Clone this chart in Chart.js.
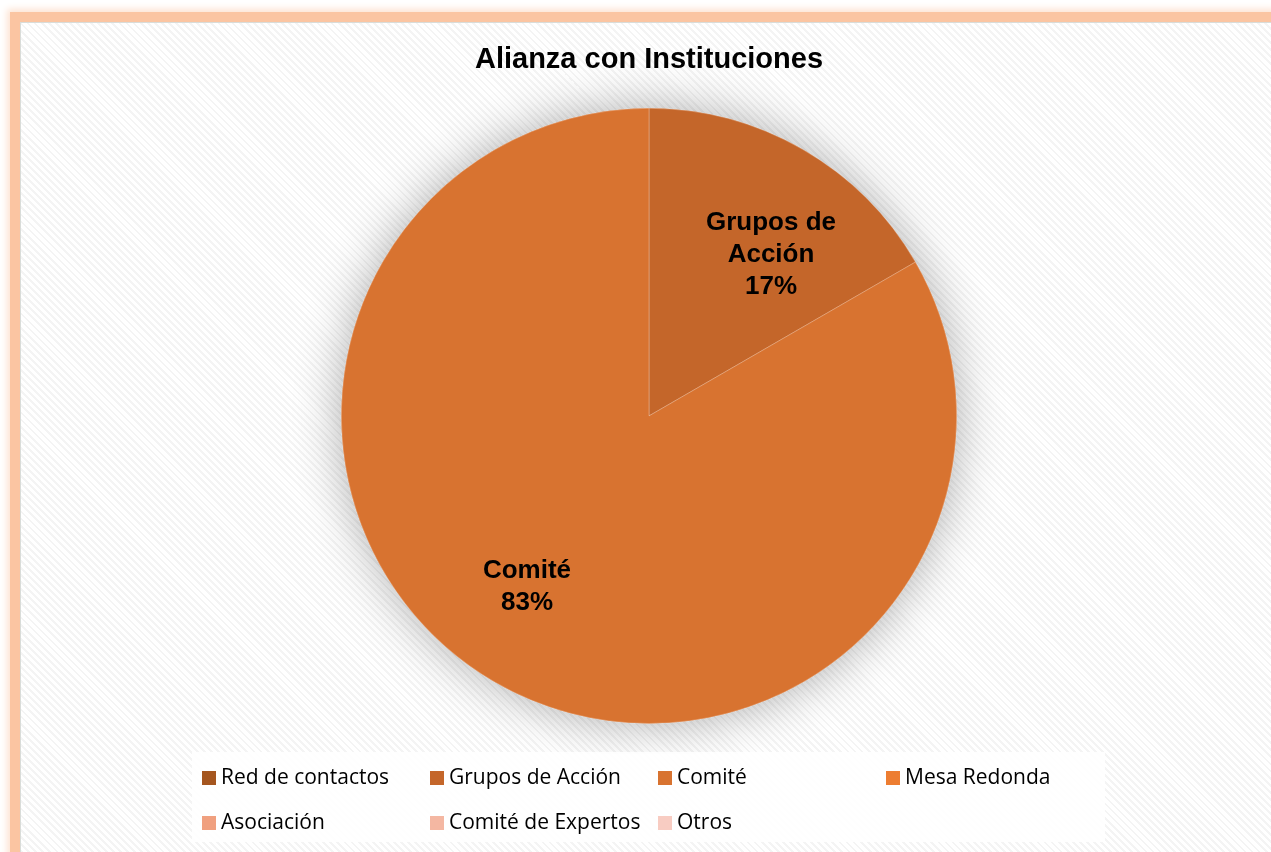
<!DOCTYPE html>
<html>
<head>
<meta charset="utf-8">
<script src="https://cdn.jsdelivr.net/npm/chart.js@4/dist/chart.umd.min.js"></script>
<style>
  html, body { margin: 0; padding: 0; width: 1271px; height: 852px; overflow: hidden; background: #fff; }
  .frame {
    position: absolute; left: 10px; top: 12px; width: 1300px; height: 900px;
    border: 10px solid #fbc5a2; box-shadow: 0 0 7px 3px #fde3d2;
    background: repeating-linear-gradient(45deg, #f4f4f4 0px, #f4f4f4 2px, #ffffff 2px, #ffffff 5px);
  }
  .frame::before {
    content: ''; position: absolute; left: 0; top: 0; right: 0; bottom: 0;
    border-left: 1px solid #d9dcd9; border-top: 1px solid #d9dcd9;
  }
  #wrap { position: absolute; left: 20px; top: 22px; width: 1258px; height: 732px; }
  #legend {
    position: absolute; left: 192px; top: 752px; width: 913px; height: 90px;
    background: rgba(255,255,255,0.85);
    font-family: "Open Sans", "DejaVu Sans", sans-serif; font-size: 21px; color: #000;
  }
  #legend .item { position: absolute; height: 26px; line-height: 26px; white-space: nowrap; }
  #legend .box { display: inline-block; width: 14px; height: 14px; vertical-align: -1px; margin-right: 5px; }
</style>
</head>
<body>
<div class="frame"></div>
<div id="wrap"><canvas id="pieChart"></canvas></div>
<div id="legend"></div>
<script>
  // Data
  const categories = ['Red de contactos', 'Grupos de Acción', 'Comité', 'Mesa Redonda', 'Asociación', 'Comité de Expertos', 'Otros'];
  const values = [0, 1, 5, 0, 0, 0, 0];
  const sliceColors = ['#a5561f', '#c4662a', '#d87330', '#ed7d31', '#f0a07f', '#f4b7a2', '#f8ccc2'];

  // soft shadow under the pie, drawn once as a full disc
  const pieShadow = {
    id: 'pieShadow',
    beforeDatasetsDraw(chart) {
      const arc = chart.getDatasetMeta(0).data[0];
      if (!arc) return;
      const ctx = chart.ctx;
      ctx.save();
      ctx.shadowColor = 'rgba(0,0,0,0.32)';
      ctx.shadowBlur = 48;
      ctx.fillStyle = sliceColors[2];
      ctx.beginPath();
      ctx.arc(arc.x, arc.y, arc.outerRadius, 0, Math.PI * 2);
      ctx.fill();
      ctx.restore();
    }
  };

  // category + percent labels inside slices (best-fit style, nudged clockwise)
  const sliceLabels = {
    id: 'sliceLabels',
    afterDatasetsDraw(chart) {
      const ctx = chart.ctx;
      const meta = chart.getDatasetMeta(0);
      const total = values.reduce((a, b) => a + b, 0);
      ctx.save();
      ctx.font = 'bold 26px "Liberation Sans", Arial, sans-serif';
      ctx.fillStyle = '#000';
      ctx.textAlign = 'center';
      ctx.textBaseline = 'middle';
      meta.data.forEach((arc, i) => {
        if (!values[i]) return;
        const mid = (arc.startAngle + arc.endAngle) / 2 + 0.11;
        const r = arc.outerRadius * 0.67;
        const x = arc.x + Math.cos(mid) * r;
        const y = arc.y + Math.sin(mid) * r + 5;
        const pct = Math.round(values[i] / total * 100) + '%';
        let lines = categories[i] === 'Grupos de Acción' ? ['Grupos de', 'Acción'] : [categories[i]];
        lines = lines.concat(pct);
        const lh = 32;
        const y0 = y - (lines.length - 1) * lh / 2;
        lines.forEach((t, k) => ctx.fillText(t, x, y0 + k * lh));
      });
      ctx.restore();
    }
  };

  const ctx = document.getElementById('pieChart').getContext('2d');
  const pieChart = new Chart(ctx, {
    type: 'pie',
    data: {
      labels: categories,
      datasets: [{
        data: values,
        backgroundColor: sliceColors,
        borderColor: 'rgba(255,255,255,0.25)',
        borderWidth: 1
      }]
    },
    options: {
      responsive: true,
      maintainAspectRatio: false,
      animation: false,
      layout: { padding: { top: 21, bottom: 30 } },
      plugins: {
        legend: { display: false },
        tooltip: { enabled: false },
        title: {
          display: true,
          text: 'Alianza con Instituciones',
          color: '#000',
          font: { family: '"Liberation Sans", Arial, sans-serif', size: 29, weight: 'bold' },
          padding: { top: 0, bottom: 30 }
        }
      }
    },
    plugins: [pieShadow, sliceLabels]
  });

  // legend in four fixed columns, built from the chart data
  const legendEl = document.getElementById('legend');
  categories.forEach((name, i) => {
    const col = i % 4, row = Math.floor(i / 4);
    const div = document.createElement('div');
    div.className = 'item';
    div.style.left = (10 + col * 228) + 'px';
    div.style.top = (11 + row * 45) + 'px';
    div.innerHTML = '<span class="box" style="background:' + sliceColors[i] + '"></span>' + name;
    legendEl.appendChild(div);
  });
</script>
</body>
</html>
